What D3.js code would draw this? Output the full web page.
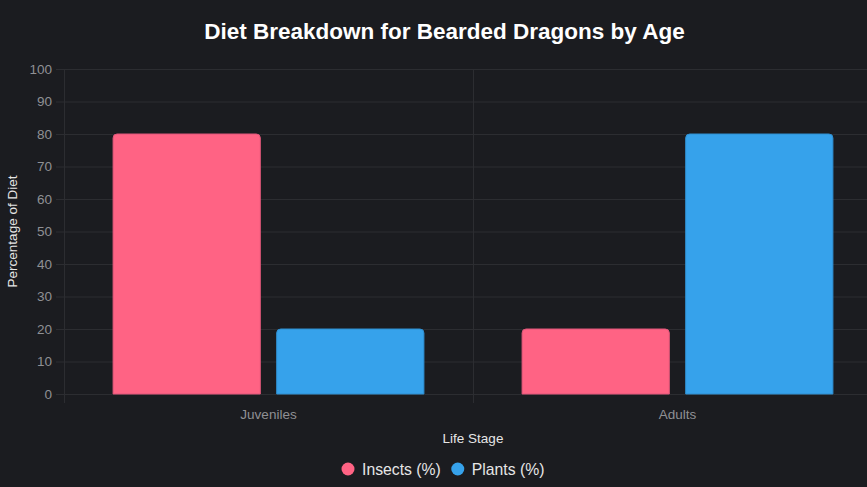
<!DOCTYPE html>
<html>
<head>
<meta charset="utf-8">
<script src="https://cdn.jsdelivr.net/npm/d3@7"></script>
<style>
  html, body { margin: 0; padding: 0; background: #1b1c20; overflow: hidden; }
  svg { display: block; font-family: "Liberation Sans", Arial, Helvetica, sans-serif; }
</style>
</head>
<body>
<div id="chart"></div>
<script>
/* Data */
var stages = ["Juveniles", "Adults"],
    seriesNames = ["Insects (%)", "Plants (%)"],
    insects = [80, 20],
    plants = [20, 80],
    yTicks = [0, 10, 20, 30, 40, 50, 60, 70, 80, 90, 100];

/* Settings */
var width = 867,
    height = 487,
    colors = ["#ff6384", "#36a2eb"],
    borders = ["#e0577a", "#2f8fd0"],
    gridColor = "#2c2d31",
    tickColor = "#8f9094",
    plot = { left: 64, right: 882, top: 69, bottom: 394 };

var svg = d3.select("#chart").append("svg")
    .attr("width", width)
    .attr("height", height);

var x = d3.scaleBand()
    .domain(stages)
    .range([plot.left, plot.right])
    .paddingInner(0)
    .paddingOuter(0);

var inner = d3.scaleBand()
    .domain(seriesNames)
    .range([x.bandwidth() * 0.1, x.bandwidth() * 0.9])
    .paddingInner(0.1)
    .paddingOuter(0.05);

var y = d3.scaleLinear()
    .domain([0, 100])
    .range([plot.bottom, plot.top]);

/* Grid */
svg.append("g")
  .selectAll("line")
  .data(yTicks)
  .join("line")
    .attr("x1", plot.left - 8)
    .attr("x2", plot.right)
    .attr("y1", d => y(d) + 0.5)
    .attr("y2", d => y(d) + 0.5)
    .attr("stroke", gridColor);

var xGrid = [plot.left].concat(stages.map(d => x(d) + x.bandwidth()));
svg.append("g")
  .selectAll("line")
  .data(xGrid)
  .join("line")
    .attr("x1", d => d + 0.5)
    .attr("x2", d => d + 0.5)
    .attr("y1", plot.top)
    .attr("y2", plot.bottom + 9)
    .attr("stroke", gridColor);

/* Y tick labels */
svg.append("g")
  .selectAll("text")
  .data(yTicks)
  .join("text")
    .attr("x", plot.left - 12)
    .attr("y", d => y(d))
    .attr("dy", "0.35em")
    .attr("text-anchor", "end")
    .attr("fill", tickColor)
    .attr("font-size", 13.5)
    .text(d => d);

/* X tick labels */
svg.append("g")
  .selectAll("text")
  .data(stages)
  .join("text")
    .attr("x", d => x(d) + x.bandwidth() / 2)
    .attr("y", plot.bottom + 25)
    .attr("text-anchor", "middle")
    .attr("fill", tickColor)
    .attr("font-size", 13.5)
    .text(d => d);

/* Bars */
function topRounded(x0, y0, w, h, r) {
  r = Math.min(r, h, w / 2);
  return "M" + x0 + "," + (y0 + h) +
    "V" + (y0 + r) +
    "Q" + x0 + "," + y0 + " " + (x0 + r) + "," + y0 +
    "H" + (x0 + w - r) +
    "Q" + (x0 + w) + "," + y0 + " " + (x0 + w) + "," + (y0 + r) +
    "V" + (y0 + h) + "Z";
}

var series = [insects, plants];
series.forEach(function(values, si) {
  svg.append("g")
    .selectAll("path")
    .data(stages.map((s, i) => ({ stage: s, value: values[i] })))
    .join("path")
      .attr("d", d => topRounded(
        x(d.stage) + inner(seriesNames[si]),
        y(d.value),
        inner.bandwidth(),
        y(0) - y(d.value),
        4))
      .attr("fill", colors[si])
      .attr("stroke", borders[si])
      .attr("stroke-width", 1);
});

/* Title and axis titles */
svg.append("text")
  .attr("x", width / 2 + 11)
  .attr("y", 39)
  .attr("text-anchor", "middle")
  .attr("fill", "#ffffff")
  .attr("font-size", 22.5)
  .attr("font-weight", "bold")
  .text("Diet Breakdown for Bearded Dragons by Age");

svg.append("text")
  .attr("transform", "translate(17," + ((plot.top + plot.bottom) / 2) + ") rotate(-90)")
  .attr("text-anchor", "middle")
  .attr("fill", "#e6e6e6")
  .attr("font-size", 13.5)
  .text("Percentage of Diet");

svg.append("text")
  .attr("x", (plot.left + plot.right) / 2)
  .attr("y", 443)
  .attr("text-anchor", "middle")
  .attr("fill", "#e6e6e6")
  .attr("font-size", 13.5)
  .text("Life Stage");

/* Legend */
var legend = svg.append("g");
var lx = 341;
seriesNames.forEach(function(name, i) {
  var item = legend.append("g");
  item.append("circle")
    .attr("cx", lx + 7)
    .attr("cy", 469)
    .attr("r", 6.5)
    .attr("fill", colors[i]);
  var t = item.append("text")
    .attr("x", lx + 21)
    .attr("y", 469)
    .attr("dy", "0.35em")
    .attr("fill", "#e6e6e6")
    .attr("font-size", 15.75)
    .text(name);
  lx += 21 + t.node().getComputedTextLength() + 10;
});
</script>
</body>
</html>
